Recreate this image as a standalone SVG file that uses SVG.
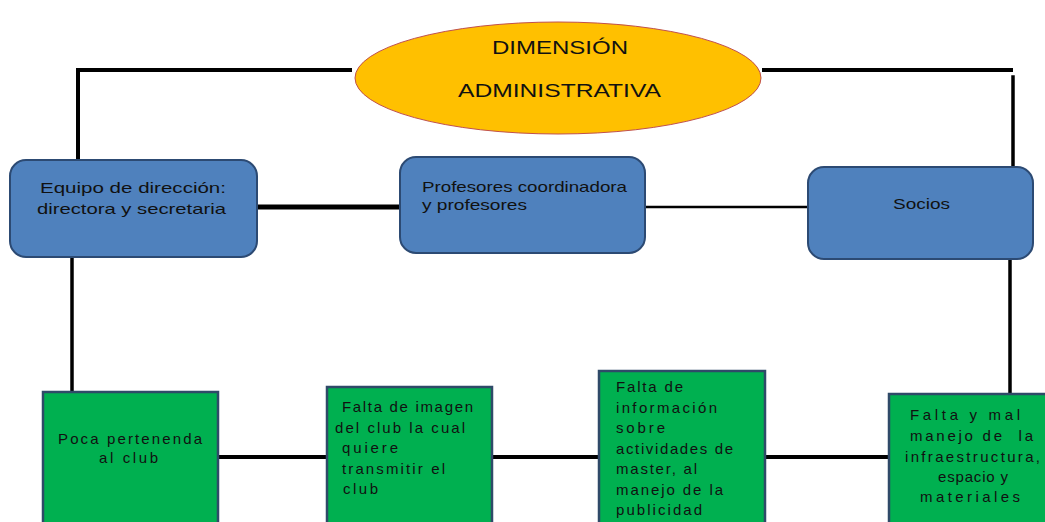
<svg xmlns="http://www.w3.org/2000/svg" width="1045" height="522" viewBox="0 0 1045 522">
<style>
text{font-family:"Liberation Sans",Arial,sans-serif;fill:#111;}
.t18{font-size:18px;}
.t15{font-size:15px;}
.t14{font-size:15px;}
.blue{fill:#4f81bd;stroke:#2c4a73;stroke-width:2;}
.green{fill:#00b050;stroke:#2f4a68;stroke-width:2.5;}
.ln{stroke:#000;fill:none;stroke-linecap:square;}
</style>
<rect width="1045" height="522" fill="#fff"/>
<g id="connectors">
<polyline class="ln" stroke-width="4" points="350,70 78,70 78,158"/>
<line class="ln" stroke-width="4" x1="764" y1="70" x2="1011" y2="70"/>
<line class="ln" stroke-width="3.5" x1="1013" y1="77" x2="1013" y2="165"/>
<line class="ln" stroke-width="5" x1="258" y1="207" x2="399" y2="207"/>
<line class="ln" stroke-width="2.5" x1="646" y1="207" x2="807" y2="207"/>
<line class="ln" stroke-width="3.5" x1="72" y1="258" x2="72" y2="391"/>
<line class="ln" stroke-width="3.5" x1="1010" y1="260" x2="1010" y2="393"/>
<line class="ln" stroke-width="4" x1="219" y1="457" x2="326" y2="457"/>
<line class="ln" stroke-width="4" x1="493" y1="457" x2="598" y2="457"/>
<line class="ln" stroke-width="4" x1="767" y1="457" x2="889" y2="457"/>
</g>
<g id="dimension">
<ellipse cx="558" cy="78" rx="203" ry="56" fill="#ffc000" stroke="#c0504d" stroke-width="1"/>
<text class="t18" x="492" y="54" textLength="136" lengthAdjust="spacingAndGlyphs">DIMENSIÓN</text>
<text class="t18" x="458" y="97" textLength="203" lengthAdjust="spacingAndGlyphs">ADMINISTRATIVA</text>
</g>
<g id="equipo">
<rect class="blue" x="10" y="160" width="247" height="97" rx="16"/>
<text class="t15" x="40" y="193" textLength="186" lengthAdjust="spacingAndGlyphs">Equipo de dirección:</text>
<text class="t15" x="37" y="214" textLength="189" lengthAdjust="spacingAndGlyphs">directora y secretaria</text>
</g>
<g id="profesores">
<rect class="blue" x="400" y="157" width="245" height="96" rx="16"/>
<text class="t15" x="422" y="192" textLength="205" lengthAdjust="spacingAndGlyphs">Profesores coordinadora</text>
<text class="t15" x="422" y="210" textLength="105" lengthAdjust="spacingAndGlyphs">y profesores</text>
</g>
<g id="socios">
<rect class="blue" x="808" y="167" width="225" height="92" rx="16"/>
<text class="t15" x="893" y="209" textLength="57" lengthAdjust="spacingAndGlyphs">Socios</text>
</g>
<g id="poca">
<rect class="green" x="43" y="392" width="175" height="140"/>
<text class="t14" x="58" y="444" textLength="144" lengthAdjust="spacing">Poca pertenenda</text>
<text class="t14" x="99" y="463" textLength="59" lengthAdjust="spacing">al club</text>
</g>
<g id="imagen">
<rect class="green" x="327" y="387" width="165" height="145"/>
<text class="t14" x="342" y="412" textLength="131" lengthAdjust="spacing">Falta de imagen</text>
<text class="t14" x="335" y="433" textLength="130" lengthAdjust="spacing">del club la cual</text>
<text class="t14" x="342" y="453" textLength="56" lengthAdjust="spacing">quiere</text>
<text class="t14" x="342" y="474" textLength="103" lengthAdjust="spacing">transmitir el</text>
<text class="t14" x="343" y="494" textLength="35" lengthAdjust="spacing">club</text>
</g>
<g id="informacion">
<rect class="green" x="599" y="371" width="166" height="161"/>
<text class="t14" x="616" y="392" textLength="67" lengthAdjust="spacing">Falta de</text>
<text class="t14" x="616" y="413" textLength="101" lengthAdjust="spacing">información</text>
<text class="t14" x="616" y="433" textLength="49" lengthAdjust="spacing">sobre</text>
<text class="t14" x="616" y="454" textLength="117" lengthAdjust="spacing">actividades de</text>
<text class="t14" x="616" y="474" textLength="81" lengthAdjust="spacing">master, al</text>
<text class="t14" x="616" y="495" textLength="107" lengthAdjust="spacing">manejo de la</text>
<text class="t14" x="616" y="515" textLength="86" lengthAdjust="spacing">publicidad</text>
</g>
<g id="infraestructura">
<rect class="green" x="889" y="394" width="170" height="140"/>
<text class="t14" x="910" y="420" textLength="110" lengthAdjust="spacing">Falta y mal</text>
<text class="t14" x="910" y="441" textLength="123" lengthAdjust="spacing" xml:space="preserve">manejo de  la</text>
<text class="t14" x="905" y="462" textLength="135" lengthAdjust="spacing">infraestructura,</text>
<text class="t14" x="938" y="482" textLength="70" lengthAdjust="spacing">espacio y</text>
<text class="t14" x="920" y="502" textLength="100" lengthAdjust="spacing">materiales</text>
</g>
</svg>
